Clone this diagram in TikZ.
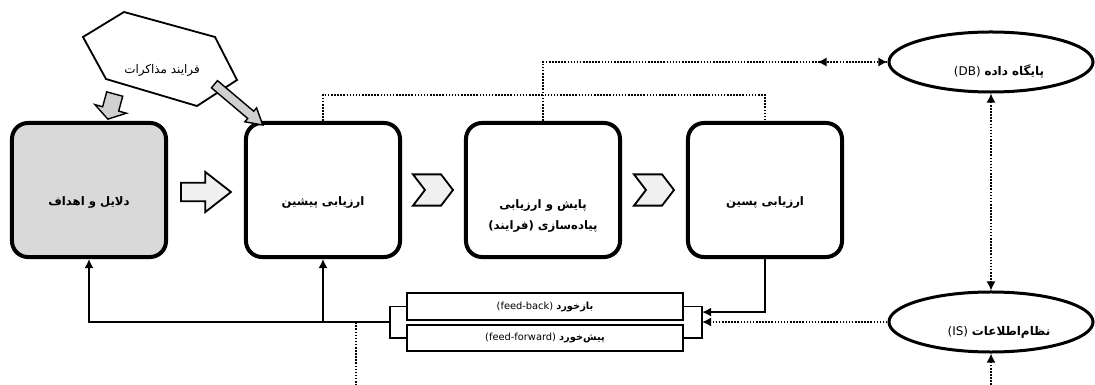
\documentclass[tikz,border=0pt]{standalone}
\usepackage{fontspec}
\setmainfont{DejaVu Sans}
\newfontfamily\fa[Script=Arabic]{DejaVu Sans}
\TeXXeTstate=1
\usepackage{xcolor}
\usetikzlibrary{arrows.meta, positioning, calc, shapes.geometric, shapes.arrows, shapes.symbols}
\definecolor{boxgrey}{HTML}{D9D9D9}
\definecolor{arrowgrey}{HTML}{D0D0D0}
\definecolor{chevgrey}{HTML}{F0F0F0}
\tikzset{
>={Latex[length=6.5pt,width=6.5pt]},
box/.style={%
    rectangle,
    rounded corners=0.4cm,
    draw=black,
    line width=0.1cm,
    minimum width=3.85cm,
    minimum height=3.35cm,
    inner sep=0pt
},
boxlabel/.style={font=\fontsize{8.3}{15.5}\fa\bfseries, align=center, inner sep=0pt},
ell/.style={%
    ellipse,
    draw=black,
    line width=0.075cm,
    minimum width=5.1cm,
    minimum height=1.5cm,
    inner sep=0pt
},
ellabel/.style={font=\fontsize{8.5}{10}\fa, inner sep=0pt},
fbbox/.style={%
    rectangle,
    draw=black,
    line width=0.05cm,
    minimum width=6.9cm,
    minimum height=0.66cm,
    inner sep=0pt,
    font=\fontsize{7}{8}\fa
},
conn/.style={line width=1.2pt},
dotline/.style={line width=1.1pt, dash pattern=on 1.1pt off 1.1pt},
bigarrow/.style={%
    single arrow, draw=black, fill=chevgrey, line width=1.3pt,
    minimum height=1.25cm, inner xsep=0pt, inner ysep=0.21cm,
    single arrow head extend=0.27cm, single arrow tip angle=76
},
greyarrow/.style={%
    single arrow, draw=black, fill=arrowgrey, line width=1pt,
    inner xsep=0pt, sloped, allow upside down
},
chevron/.style={%
    signal, signal from=west, signal to=east, signal pointer angle=105,
    draw=black, fill=chevgrey, line width=1.3pt,
    minimum width=1cm, minimum height=0.78cm, inner sep=0pt
},
}

\begin{document}
\begin{tikzpicture}[x=0.025cm, y=-0.025cm]
\useasboundingbox (0,0) rectangle (1095,385);

% stages
\node[box, fill=boxgrey] at (89,190) (b1) {};
\node[box] at (323,190) (b2) {};
\node[box] at (543,190) (b3) {};
\node[box] at (765,190) (b4) {};
\node[boxlabel] at ([yshift=-0.3cm]b1.center) (b1t) {\beginR دلایل و اهداف\endR};
\node[boxlabel] at ([yshift=-0.3cm]b2.center) (b2t) {\beginR ارزیابی پیشین\endR};
\node[boxlabel] at ([yshift=-0.65cm]b3.center) (b3t) {\beginR پایش و ارزیابی\endR\\ \beginR پیاده‌سازی (فرایند)\endR};
\node[boxlabel] at ([yshift=-0.3cm]b4.center) (b4t) {\beginR ارزیابی پسین\endR};

\path (b1.east) -- (b2.west) node[midway, bigarrow, xshift=-0.15cm, yshift=-0.05cm] (a12) {};
\path (b2.east) -- (b3.west) node[midway, chevron] (a23) {};
\path (b3.east) -- (b4.west) node[midway, chevron] (a34) {};

% negotiation
\draw[line width=1.3pt] (83,37) -- (124,12) -- (215,37) -- (237,80) -- (197,106) -- (106,79) -- cycle;
\node[font=\fontsize{8.5}{10}\fa, inner sep=0pt] at (162,70) (neg) {\beginR فرایند مذاکرات\endR};
\coordinate (n1) at (115,93);
\coordinate (n2) at (213,83);
\path (n1) -- ([xshift=0.5cm,yshift=0.15cm]b1.north) node[midway, greyarrow, minimum height=0.65cm, inner ysep=0.19cm, single arrow head extend=0.2cm, single arrow tip angle=114] (g1) {};
\path (n2) -- ([xshift=0.35cm]b2.north west) node[midway, greyarrow, minimum height=1.58cm, inner ysep=0.1cm, single arrow head extend=0.11cm, single arrow tip angle=60] (g2) {};

% data sources
\node[ell, label={[ellabel, xshift=0.2cm, yshift=-0.25cm]center:{\rmfamily(DB)}\ {\bfseries\beginR پایگاه داده\endR}}] at (991,62) (db) {};
\node[ell, label={[ellabel, xshift=0.2cm, yshift=-0.27cm]center:{\rmfamily(IS)}\ {\bfseries\beginR نظام‌اطلاعات\endR}}] at (991,322) (is) {};
\coordinate (isin) at (991,385);

\draw[dotline, ->] (b3.north) |- (db.west);
\draw[dotline, ->] (db.west) -- ++(-70,0);
\draw[dotline] (b2.north) -- ++(0,-26) -| (b4.north);
\draw[dotline, <->] (db.south) -- (is.north);
\draw[dotline, ->] (isin) -- (is.south);

% feed-back / feed-forward
\node[fbbox] at (545,306.5) (fb) {{\rmfamily(feed-back)}\ {\bfseries\beginR بازخورد\endR}};
\node[fbbox] at (545,338) (ff) {{\rmfamily(feed-forward)}\ {\bfseries\beginR پیش‌خورد\endR}};
\draw[line width=1.3pt] (fb.west) -- ++(-16,0) coordinate (fbl) |- (ff.west);
\draw[line width=1.3pt] (fb.east) -- ++(18,0) coordinate (fbr) |- (ff.east);
\coordinate (lj) at ($(fbl)!0.5!(fbl |- ff.west)$);
\coordinate (drop) at (356,385);

\draw[conn, ->] (lj) -| (b1.south);
\draw[conn, ->] (b2.south |- lj) -- (b2.south);
\draw[dotline] (drop |- lj) -- (drop);
\draw[conn, ->] (b4.south) |- ([yshift=-0.14cm]fbr);
\draw[dotline, ->] (is.west) -- (is.west -| fbr);

\end{tikzpicture}
\end{document}
